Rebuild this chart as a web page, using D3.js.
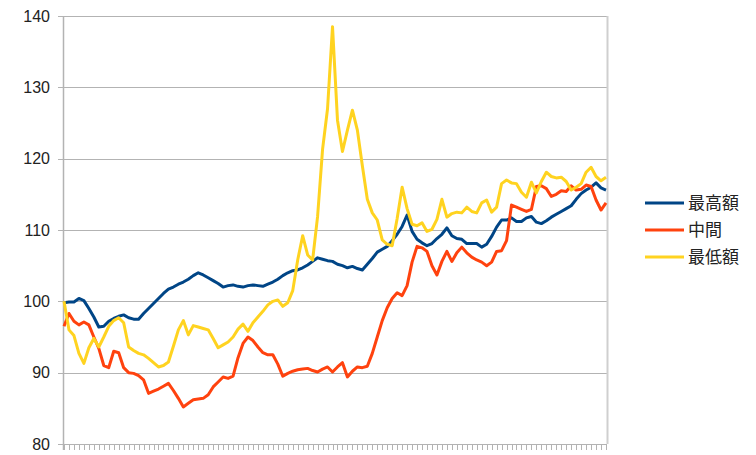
<!DOCTYPE html>
<html>
<head>
<meta charset="utf-8">
<script src="https://cdn.jsdelivr.net/npm/d3@7"></script>
<style>
  body { margin: 0; background: #fff; }
  text { font-family: "Liberation Sans", Arial, sans-serif; fill: #222; }
  .legend text { font-family: "Noto Sans CJK JP", "Noto Sans CJK SC", sans-serif; }
</style>
</head>
<body>
<div id="chart"></div>
<script>
// series values
var highest = [99.8, 99.9, 99.9, 100.4, 100.1, 99.0, 97.8, 96.4, 96.5, 97.2,
  97.6, 97.9, 98.1, 97.7, 97.5, 97.5, 98.3, 99.0, 99.7, 100.4,
  101.1, 101.7, 102.0, 102.4, 102.7, 103.1, 103.6, 104.0, 103.7, 103.3,
  102.9, 102.5, 102.0, 102.2, 102.3, 102.1, 102.0, 102.2, 102.3, 102.2,
  102.1, 102.4, 102.7, 103.1, 103.6, 104.0, 104.3, 104.4, 104.7, 105.1,
  105.6, 106.1, 105.9, 105.7, 105.6, 105.2, 105.0, 104.7, 104.9, 104.6,
  104.4, 105.2, 106.0, 106.9, 107.3, 107.7, 108.5, 109.4, 110.5, 112.1,
  109.8, 108.7, 108.2, 107.8, 108.1, 108.8, 109.4, 110.3, 109.2, 108.8,
  108.7, 108.1, 108.1, 108.1, 107.6, 108.0, 109.1, 110.4, 111.4, 111.4,
  111.7, 111.2, 111.2, 111.7, 111.9, 111.1, 110.9, 111.3, 111.8, 112.2,
  112.6, 113.0, 113.4, 114.3, 115.1, 115.6, 116.0, 116.6, 115.9, 115.6];

var middle = [96.5, 98.3, 97.2, 96.7, 97.1, 96.7, 95.0, 93.4, 91.0, 90.7,
  93.0, 92.8, 90.7, 90.0, 89.9, 89.6, 89.0, 87.1, 87.4, 87.7,
  88.1, 88.5, 87.5, 86.4, 85.2, 85.7, 86.2, 86.3, 86.4, 86.9,
  88.0, 88.7, 89.4, 89.2, 89.5, 92.1, 94.1, 95.0, 94.5, 93.6,
  92.8, 92.5, 92.5, 91.2, 89.5, 89.9, 90.2, 90.4, 90.5, 90.6,
  90.3, 90.1, 90.5, 90.8, 90.1, 90.8, 91.4, 89.4, 90.2, 90.8,
  90.7, 90.9, 92.7, 95.0, 97.3, 99.1, 100.4, 101.2, 100.8, 102.2,
  105.5, 107.7, 107.5, 107.0, 105.0, 103.7, 105.6, 107.0, 105.6, 106.8,
  107.6, 106.8, 106.2, 105.8, 105.5, 105.0, 105.5, 107.0, 107.1, 108.5,
  113.5, 113.2, 112.9, 112.6, 112.9, 116.1, 116.2, 115.8, 114.7, 115.0,
  115.5, 115.4, 116.2, 115.6, 115.7, 116.3, 116.1, 114.2, 112.8, 113.8];

var lowest = [100.0, 96.0, 95.2, 92.7, 91.3, 93.5, 94.8, 93.6, 95.0, 96.5,
  97.3, 97.7, 97.0, 93.6, 93.1, 92.7, 92.5, 92.0, 91.4, 90.8,
  91.0, 91.5, 93.7, 96.0, 97.3, 95.3, 96.6, 96.4, 96.2, 96.0,
  94.8, 93.5, 93.9, 94.3, 95.0, 96.1, 96.8, 95.8, 97.0, 97.8,
  98.6, 99.5, 100.0, 100.2, 99.3, 99.8, 101.5, 105.8, 109.2, 106.5,
  105.8, 111.9, 121.3, 127.0, 138.5, 125.4, 121.0, 124.0, 126.8, 124.0,
  119.0, 114.3, 112.4, 111.4, 108.6, 108.0, 107.8, 111.6, 116.0, 113.0,
  110.8, 110.6, 111.0, 109.8, 110.1, 111.5, 114.3, 111.8, 112.3, 112.5,
  112.4, 113.2, 112.6, 112.4, 113.8, 114.2, 112.5, 113.2, 116.5, 117.0,
  116.6, 116.5, 115.3, 114.6, 116.7, 115.2, 116.8, 118.1, 117.5, 117.3,
  117.4, 116.8, 115.6, 116.0, 116.5, 118.1, 118.8, 117.5, 116.9, 117.4];

var seriesNames = ['最高額', '中間', '最低額'];
var seriesColors = ['#004586', '#ff420e', '#ffd320'];
var yTicks = [80, 90, 100, 110, 120, 130, 140];

var categories = d3.range(highest.length);

var width = 756, height = 455;
var plotLeft = 63, plotRight = 607, plotTop = 16, plotBottom = 444;

var svg = d3.select('#chart').append('svg')
  .attr('width', width)
  .attr('height', height);

var x = d3.scalePoint().domain(categories).range([plotLeft + 1, plotRight - 1]);
var y = d3.scaleLinear().domain([80, 140]).range([plotBottom, plotTop]);

// grid lines
svg.append('g').selectAll('line').data(yTicks)
  .enter().append('line')
  .attr('x1', plotLeft - 5).attr('x2', plotRight)
  .attr('y1', function(d) { return Math.round(y(d)) + 0.5; })
  .attr('y2', function(d) { return Math.round(y(d)) + 0.5; })
  .attr('stroke', '#b3b3b3').attr('stroke-width', 1);

// right border
svg.append('line')
  .attr('x1', plotRight + 0.5).attr('x2', plotRight + 0.5)
  .attr('y1', plotTop).attr('y2', plotBottom)
  .attr('stroke', '#cfcfcf').attr('stroke-width', 2);

// y axis line
svg.append('line')
  .attr('x1', plotLeft + 0.5).attr('x2', plotLeft + 0.5)
  .attr('y1', plotTop).attr('y2', plotBottom + 6)
  .attr('stroke', '#b3b3b3').attr('stroke-width', 1.5);

// y labels
svg.append('g').selectAll('text').data(yTicks)
  .enter().append('text')
  .attr('x', 50)
  .attr('y', function(d) { return y(d); })
  .attr('dy', '0.36em')
  .attr('text-anchor', 'end')
  .style('font-size', '16px')
  .text(function(d) { return d; });

// x axis ticks, one per category
svg.append('g').selectAll('line').data(categories)
  .enter().append('line')
  .attr('x1', function(d) { return Math.round(x(d)) + 0.5; })
  .attr('x2', function(d) { return Math.round(x(d)) + 0.5; })
  .attr('y1', plotBottom).attr('y2', plotBottom + 6)
  .attr('stroke', '#b3b3b3').attr('stroke-width', 1);

// series lines
var line = d3.line()
  .x(function(d, i) { return x(i); })
  .y(function(d) { return y(d); });

var allSeries = [highest, middle, lowest];
svg.append('g').selectAll('path').data(allSeries)
  .enter().append('path')
  .attr('d', line)
  .attr('fill', 'none')
  .attr('stroke', function(d, i) { return seriesColors[i]; })
  .attr('stroke-width', 3)
  .attr('stroke-linejoin', 'round');

// legend
var legend = svg.append('g').attr('class', 'legend');
var items = legend.selectAll('g').data(seriesNames)
  .enter().append('g')
  .attr('transform', function(d, i) { return 'translate(645,' + (203 + i * 27) + ')'; });
items.append('line')
  .attr('x1', 0).attr('x2', 39)
  .attr('stroke', function(d, i) { return seriesColors[i]; })
  .attr('stroke-width', 3);
items.append('text')
  .attr('x', 43)
  .attr('dy', '0.36em')
  .style('font-size', '17px')
  .text(function(d) { return d; });
</script>
</body>
</html>
